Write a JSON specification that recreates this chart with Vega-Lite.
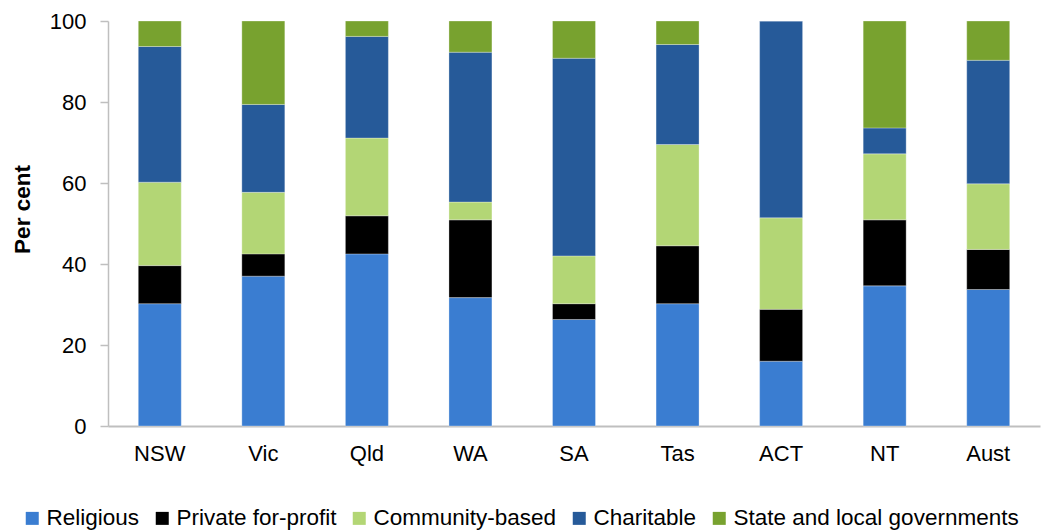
{
  "$schema": "https://vega.github.io/schema/vega-lite/v6.json",
  "width": 932,
  "height": 405,
  "autosize": {"type": "none"},
  "padding": {"left": 108, "top": 21, "right": 2, "bottom": 104},
  "background": "white",
  "config": {
    "view": {"stroke": null},
    "font": "Liberation Sans",
    "axis": {"labelFont": "Liberation Sans", "titleFont": "Liberation Sans", "labelColor": "#000000", "titleColor": "#000000", "grid": false}
  },
  "data": {
    "values": [
      {"state": "NSW", "type": "Religious", "o": 1, "value": 30.2},
      {"state": "NSW", "type": "Private for-profit", "o": 2, "value": 9.4},
      {"state": "NSW", "type": "Community-based", "o": 3, "value": 20.6},
      {"state": "NSW", "type": "Charitable", "o": 4, "value": 33.5},
      {"state": "NSW", "type": "State and local governments", "o": 5, "value": 6.3},
      {"state": "Vic", "type": "Religious", "o": 1, "value": 37.0},
      {"state": "Vic", "type": "Private for-profit", "o": 2, "value": 5.5},
      {"state": "Vic", "type": "Community-based", "o": 3, "value": 15.2},
      {"state": "Vic", "type": "Charitable", "o": 4, "value": 21.7},
      {"state": "Vic", "type": "State and local governments", "o": 5, "value": 20.6},
      {"state": "Qld", "type": "Religious", "o": 1, "value": 42.5},
      {"state": "Qld", "type": "Private for-profit", "o": 2, "value": 9.4},
      {"state": "Qld", "type": "Community-based", "o": 3, "value": 19.2},
      {"state": "Qld", "type": "Charitable", "o": 4, "value": 25.1},
      {"state": "Qld", "type": "State and local governments", "o": 5, "value": 3.8},
      {"state": "WA", "type": "Religious", "o": 1, "value": 31.7},
      {"state": "WA", "type": "Private for-profit", "o": 2, "value": 19.2},
      {"state": "WA", "type": "Community-based", "o": 3, "value": 4.4},
      {"state": "WA", "type": "Charitable", "o": 4, "value": 37.0},
      {"state": "WA", "type": "State and local governments", "o": 5, "value": 7.7},
      {"state": "SA", "type": "Religious", "o": 1, "value": 26.3},
      {"state": "SA", "type": "Private for-profit", "o": 2, "value": 3.9},
      {"state": "SA", "type": "Community-based", "o": 3, "value": 11.8},
      {"state": "SA", "type": "Charitable", "o": 4, "value": 48.8},
      {"state": "SA", "type": "State and local governments", "o": 5, "value": 9.2},
      {"state": "Tas", "type": "Religious", "o": 1, "value": 30.2},
      {"state": "Tas", "type": "Private for-profit", "o": 2, "value": 14.3},
      {"state": "Tas", "type": "Community-based", "o": 3, "value": 25.0},
      {"state": "Tas", "type": "Charitable", "o": 4, "value": 24.7},
      {"state": "Tas", "type": "State and local governments", "o": 5, "value": 5.8},
      {"state": "ACT", "type": "Religious", "o": 1, "value": 16.0},
      {"state": "ACT", "type": "Private for-profit", "o": 2, "value": 12.8},
      {"state": "ACT", "type": "Community-based", "o": 3, "value": 22.6},
      {"state": "ACT", "type": "Charitable", "o": 4, "value": 48.6},
      {"state": "ACT", "type": "State and local governments", "o": 5, "value": 0},
      {"state": "NT", "type": "Religious", "o": 1, "value": 34.6},
      {"state": "NT", "type": "Private for-profit", "o": 2, "value": 16.3},
      {"state": "NT", "type": "Community-based", "o": 3, "value": 16.3},
      {"state": "NT", "type": "Charitable", "o": 4, "value": 6.4},
      {"state": "NT", "type": "State and local governments", "o": 5, "value": 26.4},
      {"state": "Aust", "type": "Religious", "o": 1, "value": 33.7},
      {"state": "Aust", "type": "Private for-profit", "o": 2, "value": 9.9},
      {"state": "Aust", "type": "Community-based", "o": 3, "value": 16.2},
      {"state": "Aust", "type": "Charitable", "o": 4, "value": 30.5},
      {"state": "Aust", "type": "State and local governments", "o": 5, "value": 9.7}
    ]
  },
  "mark": {"type": "bar", "stroke": "white", "strokeWidth": 0.5, "strokeOpacity": 0.6},
  "encoding": {
    "x": {
      "field": "state",
      "type": "nominal",
      "sort": ["NSW", "Vic", "Qld", "WA", "SA", "Tas", "ACT", "NT", "Aust"],
      "scale": {"paddingInner": 0.585, "paddingOuter": 0.2925},
      "axis": {
        "title": null,
        "labelAngle": 0,
        "labelFontSize": 22,
        "labelPadding": 17,
        "ticks": false,
        "domainColor": "#BFBFBF",
        "domainWidth": 2
      }
    },
    "y": {
      "field": "value",
      "type": "quantitative",
      "stack": "zero",
      "scale": {"domain": [0, 100], "nice": false},
      "axis": {
        "title": "Per cent",
        "titleFontSize": 22.5,
        "titleFontWeight": "bold",
        "titleX": -85.5,
        "titleY": 188,
        "titleAngle": -90,
        "titleBaseline": "middle",
        "values": [0, 20, 40, 60, 80, 100],
        "labelFontSize": 22,
        "labelPadding": 14,
        "tickSize": 8,
        "tickColor": "#BFBFBF",
        "domainColor": "#BFBFBF",
        "domainWidth": 1.5,
        "tickWidth": 1.5
      }
    },
    "order": {"field": "o", "type": "quantitative"},
    "color": {
      "field": "type",
      "type": "nominal",
      "scale": {
        "domain": ["Religious", "Private for-profit", "Community-based", "Charitable", "State and local governments"],
        "range": ["#3A7DD1", "#000000", "#B3D675", "#265A99", "#78A22F"]
      },
      "legend": {
        "title": null,
        "orient": "none",
        "direction": "horizontal",
        "legendX": -87,
        "legendY": 486,
        "symbolType": "square",
        "symbolSize": 169,
        "symbolStrokeWidth": 0,
        "labelFontSize": 22.5,
        "labelFont": "Liberation Sans",
        "labelColor": "#000000",
        "labelOffset": 3,
        "columnPadding": 11,
        "labelLimit": 400
      }
    }
  }
}
